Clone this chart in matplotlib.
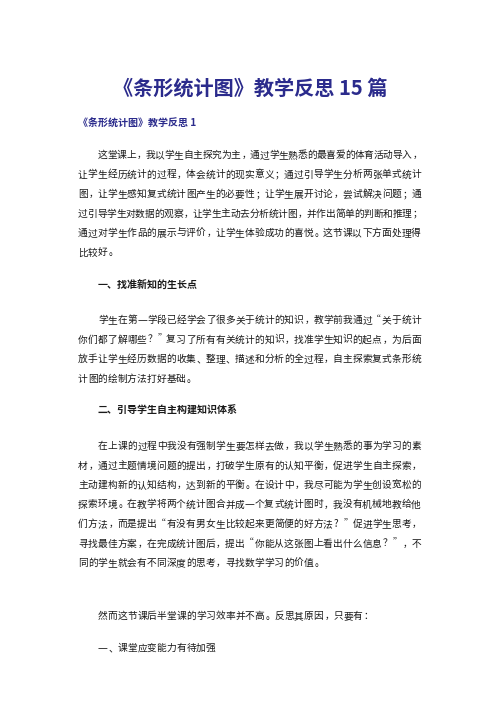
import matplotlib
matplotlib.use("Agg")
import matplotlib.pyplot as plt

plt.rcParams['font.family'] = ['Noto Sans CJK SC', 'DejaVu Sans']

W, H = 496, 702
BLUE = "#2b2b8c"
INK = "#1a1a1a"

title = "《条形统计图》教学反思 15 篇"
subtitle = "《条形统计图》教学反思 1"

para1 = [
    "这堂课上，我以学生自主探究为主，通过学生熟悉的最喜爱的体育活动导入，",
    "让学生经历统计的过程，体会统计的现实意义；通过引导学生分析两张单式统计",
    "图，让学生感知复式统计图产生的必要性；让学生展开讨论，尝试解决问题；通",
    "过引导学生对数据的观察，让学生主动去分析统计图，并作出简单的判断和推理；",
    "通过对学生作品的展示与评价，让学生体验成功的喜悦。这节课以下方面处理得",
    "比较好。",
]
head1 = "一、找准新知的生长点"
para2 = [
    "学生在第一学段已经学会了很多关于统计的知识，教学前我通过“关于统计",
    "你们都了解哪些？”复习了所有有关统计的知识，找准学生知识的起点，为后面",
    "放手让学生经历数据的收集、整理、描述和分析的全过程，自主探索复式条形统",
    "计图的绘制方法打好基础。",
]
head2 = "二、引导学生自主构建知识体系"
para3 = [
    "在上课的过程中我没有强制学生要怎样去做，我以学生熟悉的事为学习的素",
    "材，通过主题情境问题的提出，打破学生原有的认知平衡，促进学生自主探索，",
    "主动建构新的认知结构，达到新的平衡。在设计中，我尽可能为学生创设宽松的",
    "探索环境。在教学将两个统计图合并成一个复式统计图时，我没有机械地教给他",
    "们方法，而是提出“有没有男女生比较起来更简便的好方法?”促进学生思考，",
    "寻找最佳方案，在完成统计图后，提出“你能从这张图上看出什么信息？”，不",
    "同的学生就会有不同深度的思考，寻找数学学习的价值。",
]
para4 = ["然而这节课后半堂课的学习效率并不高。反思其原因，只要有："]
para5 = ["一、课堂应变能力有待加强"]

fig = plt.figure(figsize=(W / 100, H / 100), dpi=100)
fig.patch.set_facecolor("white")

LEFT, RIGHT, INDENT = 78, 421, 98
CHAR = 9.8
FS = 7.0
LEFT_PUNCT = set("，。；：、？！”?")
RIGHT_PUNCT = set("“")


def fx(x):
    return x / W


def fy(y):
    return 1 - y / H


def put_line(s, y, x0, justify, color=INK, weight="normal", size=FS):
    n = len(s)
    step = (RIGHT - x0) / n if justify else CHAR
    for i, ch in enumerate(s):
        cx = x0 + i * step
        if ch in LEFT_PUNCT:
            fig.text(fx(cx + 1.0), fy(y), ch, ha="left", va="center",
                     fontsize=size, color=color, fontweight=weight)
        elif ch in RIGHT_PUNCT:
            fig.text(fx(cx + step - 1.0), fy(y), ch, ha="right", va="center",
                     fontsize=size, color=color, fontweight=weight)
        else:
            fig.text(fx(cx + step / 2), fy(y), ch, ha="center", va="center",
                     fontsize=size, color=color, fontweight=weight)


def put_para(lines, y0, dy=19.5):
    for k, s in enumerate(lines):
        x0 = INDENT if k == 0 else LEFT
        last = (k == len(lines) - 1)
        put_line(s, y0 + k * dy, x0, justify=not last)


fig.text(fx(250), fy(88), title, ha="center", va="center", fontsize=14.5,
         fontweight="bold", color=BLUE)
fig.text(fx(LEFT), fy(124), subtitle, ha="left", va="center", fontsize=7.2,
         fontweight="bold", color=BLUE)

put_para(para1, 155)
fig.text(fx(INDENT), fy(285), head1, ha="left", va="center", fontsize=7.2,
         fontweight="bold", color=INK)
put_para(para2, 320)
fig.text(fx(INDENT), fy(411), head2, ha="left", va="center", fontsize=7.2,
         fontweight="bold", color=INK)
put_para(para3, 446)
put_para(para4, 616)
put_para(para5, 648)

fig.savefig("out.png", dpi=100, facecolor="white")
